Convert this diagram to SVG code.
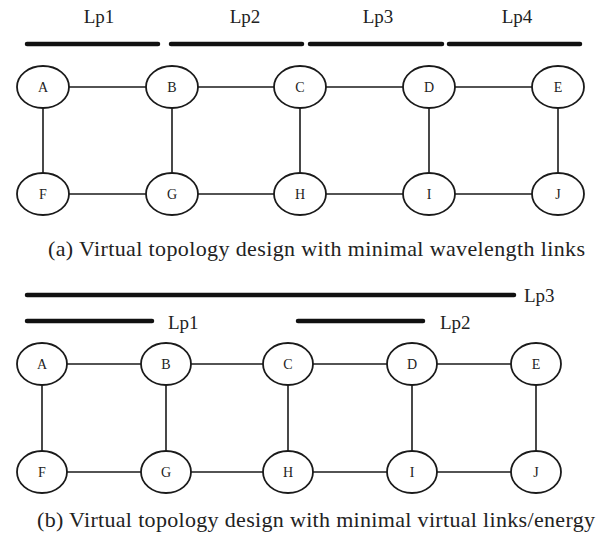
<svg xmlns="http://www.w3.org/2000/svg" width="600" height="543" viewBox="0 0 600 543">
  <style>
    .node ellipse { fill: #fff; stroke: #1a1a1a; stroke-width: 1.8; }
    .node text { font-family: "Liberation Serif", "Times New Roman", serif; font-size: 14px; fill: #222; text-anchor: middle; }
    .edge { stroke: #1a1a1a; stroke-width: 1.6; fill: none; }
    .lp { stroke: #111; stroke-width: 4.5; stroke-linecap: round; }
    .lbl { font-family: "Liberation Serif", "Times New Roman", serif; font-size: 19px; fill: #222; }
    .cap { font-family: "Liberation Serif", "Times New Roman", serif; font-size: 22px; fill: #222; }
  </style>
  <rect width="600" height="543" fill="#fff"/>

  <!-- (a) lightpaths -->
  <g id="lightpaths-a">
    <line class="lp" x1="27" y1="44" x2="158" y2="44"/>
    <line class="lp" x1="171" y1="44" x2="302" y2="44"/>
    <line class="lp" x1="310" y1="44" x2="442" y2="44"/>
    <line class="lp" x1="449" y1="44" x2="580" y2="44"/>
    <text class="lbl" x="99" y="23" text-anchor="middle">Lp1</text>
    <text class="lbl" x="245" y="23" text-anchor="middle">Lp2</text>
    <text class="lbl" x="378" y="23" text-anchor="middle">Lp3</text>
    <text class="lbl" x="517" y="23" text-anchor="middle">Lp4</text>
  </g>

  <!-- (a) links -->
  <g id="edges-a">
    <line class="edge" x1="69" y1="87" x2="146" y2="87"/>
    <line class="edge" x1="198" y1="87" x2="274" y2="87"/>
    <line class="edge" x1="326" y1="87" x2="403" y2="87"/>
    <line class="edge" x1="455" y1="87" x2="532" y2="87"/>
    <line class="edge" x1="69" y1="194" x2="146" y2="194"/>
    <line class="edge" x1="198" y1="194" x2="274" y2="194"/>
    <line class="edge" x1="326" y1="194" x2="403" y2="194"/>
    <line class="edge" x1="455" y1="194" x2="532" y2="194"/>
    <line class="edge" x1="43" y1="108" x2="43" y2="173"/>
    <line class="edge" x1="172" y1="108" x2="172" y2="173"/>
    <line class="edge" x1="300" y1="108" x2="300" y2="173"/>
    <line class="edge" x1="429" y1="108" x2="429" y2="173"/>
    <line class="edge" x1="558" y1="108" x2="558" y2="173"/>
  </g>

  <!-- (a) nodes -->
  <g id="a-A" class="node"><ellipse cx="43" cy="87" rx="26" ry="21"/><text x="43" y="92">A</text></g>
  <g id="a-B" class="node"><ellipse cx="172" cy="87" rx="26" ry="21"/><text x="172" y="92">B</text></g>
  <g id="a-C" class="node"><ellipse cx="300" cy="87" rx="26" ry="21"/><text x="300" y="92">C</text></g>
  <g id="a-D" class="node"><ellipse cx="429" cy="87" rx="26" ry="21"/><text x="429" y="92">D</text></g>
  <g id="a-E" class="node"><ellipse cx="558" cy="87" rx="26" ry="21"/><text x="558" y="92">E</text></g>
  <g id="a-F" class="node"><ellipse cx="43" cy="194" rx="26" ry="21"/><text x="43" y="199">F</text></g>
  <g id="a-G" class="node"><ellipse cx="172" cy="194" rx="26" ry="21"/><text x="172" y="199">G</text></g>
  <g id="a-H" class="node"><ellipse cx="300" cy="194" rx="26" ry="21"/><text x="300" y="199">H</text></g>
  <g id="a-I" class="node"><ellipse cx="429" cy="194" rx="26" ry="21"/><text x="429" y="199">I</text></g>
  <g id="a-J" class="node"><ellipse cx="558" cy="194" rx="26" ry="21"/><text x="558" y="199">J</text></g>

  <text class="cap" x="48" y="256" textLength="537" lengthAdjust="spacing">(a) Virtual topology design with minimal wavelength links</text>

  <!-- (b) lightpaths -->
  <g id="lightpaths-b">
    <line class="lp" x1="27" y1="295" x2="514" y2="295"/>
    <line class="lp" x1="27" y1="321" x2="152" y2="321"/>
    <line class="lp" x1="298" y1="321" x2="423" y2="321"/>
    <text class="lbl" x="524" y="302">Lp3</text>
    <text class="lbl" x="168" y="329">Lp1</text>
    <text class="lbl" x="440" y="329">Lp2</text>
  </g>

  <!-- (b) links -->
  <g id="edges-b">
    <line class="edge" x1="67" y1="364" x2="141" y2="364"/>
    <line class="edge" x1="191" y1="364" x2="263" y2="364"/>
    <line class="edge" x1="313" y1="364" x2="387" y2="364"/>
    <line class="edge" x1="437" y1="364" x2="511" y2="364"/>
    <line class="edge" x1="67" y1="472" x2="141" y2="472"/>
    <line class="edge" x1="191" y1="472" x2="263" y2="472"/>
    <line class="edge" x1="313" y1="472" x2="387" y2="472"/>
    <line class="edge" x1="437" y1="472" x2="511" y2="472"/>
    <line class="edge" x1="42" y1="385" x2="42" y2="451"/>
    <line class="edge" x1="166" y1="385" x2="166" y2="451"/>
    <line class="edge" x1="288" y1="385" x2="288" y2="451"/>
    <line class="edge" x1="412" y1="385" x2="412" y2="451"/>
    <line class="edge" x1="536" y1="385" x2="536" y2="451"/>
  </g>

  <!-- (b) nodes -->
  <g id="b-A" class="node"><ellipse cx="42" cy="364" rx="25" ry="21"/><text x="42" y="369">A</text></g>
  <g id="b-B" class="node"><ellipse cx="166" cy="364" rx="25" ry="21"/><text x="166" y="369">B</text></g>
  <g id="b-C" class="node"><ellipse cx="288" cy="364" rx="25" ry="21"/><text x="288" y="369">C</text></g>
  <g id="b-D" class="node"><ellipse cx="412" cy="364" rx="25" ry="21"/><text x="412" y="369">D</text></g>
  <g id="b-E" class="node"><ellipse cx="536" cy="364" rx="25" ry="21"/><text x="536" y="369">E</text></g>
  <g id="b-F" class="node"><ellipse cx="42" cy="472" rx="25" ry="21"/><text x="42" y="477">F</text></g>
  <g id="b-G" class="node"><ellipse cx="166" cy="472" rx="25" ry="21"/><text x="166" y="477">G</text></g>
  <g id="b-H" class="node"><ellipse cx="288" cy="472" rx="25" ry="21"/><text x="288" y="477">H</text></g>
  <g id="b-I" class="node"><ellipse cx="412" cy="472" rx="25" ry="21"/><text x="412" y="477">I</text></g>
  <g id="b-J" class="node"><ellipse cx="536" cy="472" rx="25" ry="21"/><text x="536" y="477">J</text></g>

  <text class="cap" x="37" y="527" textLength="558" lengthAdjust="spacing">(b) Virtual topology design with minimal virtual links/energy</text>
</svg>
